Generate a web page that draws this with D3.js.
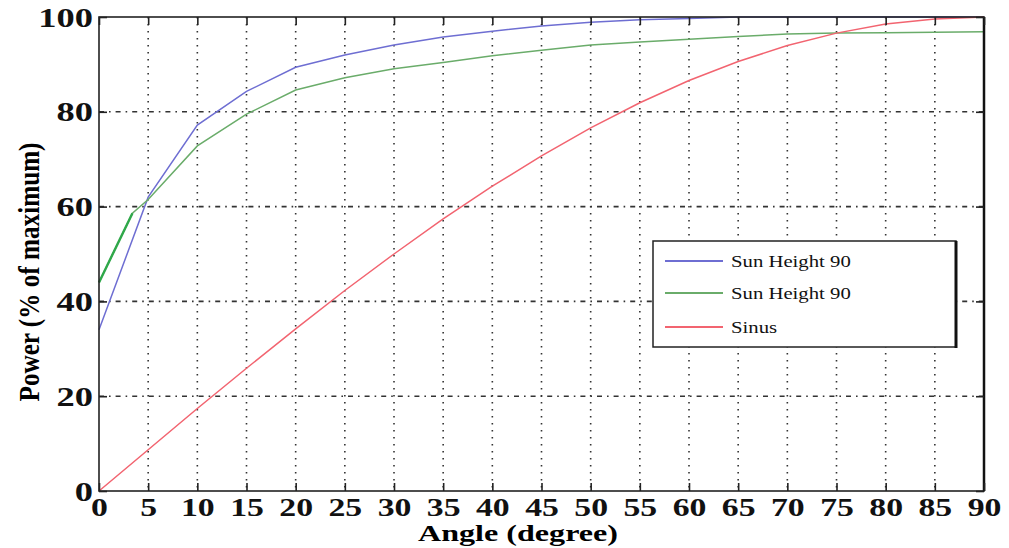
<!DOCTYPE html>
<html><head><meta charset="utf-8">
<script src="https://cdn.jsdelivr.net/npm/d3@7"></script>
<style>body{margin:0;background:#fff}</style>
</head><body>
<svg id="c" width="1009" height="548"></svg>
<script>
const xTicks = [0,5,10,15,20,25,30,35,40,45,50,55,60,65,70,75,80,85,90];
const yTicks = [0,20,40,60,80,100];
const blueX = [0,5,10,15,20,25,30,35,40,45,50,55,60,65,70,75,80,85,90];
const blueY = [34,62,77.2,84.3,89.4,92,94.1,95.8,97,98.1,98.9,99.4,99.7,100,100,100,100,100,100];
const greenX = [0,3.4,5,10,15,20,25,30,35,40,45,50,55,60,65,70,75,80,85,90];
const greenY = [44,58.6,61.5,72.8,79.5,84.6,87.2,89.1,90.4,91.8,93,94.1,94.7,95.3,95.9,96.4,96.6,96.7,96.8,96.9];
const sinX = [0,5,10,15,20,25,30,35,40,45,50,55,60,65,70,75,80,85,90];
const sinY = [0,8.7,17.4,25.9,34.2,42.3,50,57.4,64.3,70.7,76.6,81.9,86.6,90.6,94,96.6,98.5,99.6,100];
const legendLabels = ["Sun Height 90","Sun Height 90","Sinus"];
const colors = ["#6e6ed2","#6aac6a","#f26470"];

const svg = d3.select("#c");
const L=99,R=984,T=17,B=491;
const x = d3.scaleLinear().domain([0,90]).range([L,R]);
const y = d3.scaleLinear().domain([0,100]).range([B,T]);
const g = svg.append("g");
const SX = 1.35;

// grid
g.selectAll(".vg").data(xTicks.slice(1,-1)).enter().append("line")
 .attr("x1",d=>x(d)).attr("x2",d=>x(d)).attr("y1",T).attr("y2",B)
 .attr("stroke","#333").attr("stroke-width",1.6).attr("stroke-dasharray","1.6,5.4");
g.selectAll(".hg").data(yTicks.slice(1,-1)).enter().append("line")
 .attr("x1",L).attr("x2",R).attr("y1",d=>y(d)).attr("y2",d=>y(d))
 .attr("stroke","#333").attr("stroke-width",1.6).attr("stroke-dasharray","5,5,1.6,5");

// lines
const line = d3.line().x(d=>x(d[0])).y(d=>y(d[1]));
const series = [d3.zip(blueX,blueY), d3.zip(greenX,greenY), d3.zip(sinX,sinY)];
series.forEach((s,i)=>{
  g.append("path").datum(s).attr("d",line).attr("fill","none")
   .attr("stroke",colors[i]).attr("stroke-width",1.5);
});
g.append("path").datum(series[1].slice(0,2)).attr("d",line).attr("fill","none")
 .attr("stroke","#2fa84a").attr("stroke-width",2.4);

// frame
g.append("rect").attr("x",L).attr("y",T).attr("width",R-L).attr("height",B-T)
 .attr("fill","none").attr("stroke","#222").attr("stroke-width",1.6);
g.append("line").attr("x1",R).attr("x2",R).attr("y1",T).attr("y2",B).attr("stroke","#111").attr("stroke-width",2.5);

// axes
const xa = g.append("g").attr("transform",`translate(0,${B})`)
 .call(d3.axisBottom(x).tickValues(xTicks).tickSize(-8).tickPadding(0).tickFormat(d3.format("d")));
const xt = g.append("g").attr("transform",`translate(0,${T})`)
 .call(d3.axisTop(x).tickValues(xTicks).tickSize(-8).tickFormat(""));
const ya = g.append("g").attr("transform",`translate(${L},0)`)
 .call(d3.axisLeft(y).tickValues(yTicks).tickSize(-8).tickPadding(0));
const yr = g.append("g").attr("transform",`translate(${R},0)`)
 .call(d3.axisRight(y).tickValues(yTicks).tickSize(-8).tickFormat(""));
[xa,xt,ya,yr].forEach(a=>{a.select(".domain").remove();a.selectAll("line").attr("stroke","#222").attr("stroke-width",1.6);});
xa.selectAll("text").attr("font-family","Liberation Serif").attr("font-weight","bold").attr("font-size",25).attr("fill","#111")
 .attr("x",0).attr("y",25).attr("dy",0).attr("transform",`scale(${SX},1)`);
ya.selectAll("text").attr("font-family","Liberation Serif").attr("font-weight","bold").attr("font-size",27).attr("fill","#111")
 .attr("x",-6/SX).attr("dy","0.34em").attr("transform",`scale(${SX},1)`);

svg.append("text").attr("x",518).attr("y",541).attr("text-anchor","middle")
 .attr("font-family","Liberation Serif").attr("font-weight","bold").attr("font-size",23)
 .attr("textLength",200).attr("lengthAdjust","spacingAndGlyphs").text("Angle (degree)");
svg.append("text").attr("transform","translate(39,272) rotate(-90) scale(1,1.25)").attr("text-anchor","middle")
 .attr("font-family","Liberation Serif").attr("font-weight","bold").attr("font-size",23)
 .attr("textLength",259).attr("lengthAdjust","spacingAndGlyphs").text("Power (% of maximum)");

// legend
const lg = svg.append("g");
lg.append("rect").attr("x",653).attr("y",241).attr("width",303).attr("height",106).attr("fill","#fff").attr("stroke","#222").attr("stroke-width",1.5);
lg.append("line").attr("x1",956).attr("x2",956).attr("y1",241).attr("y2",348).attr("stroke","#111").attr("stroke-width",3);
const rows=[261,293,327];
legendLabels.forEach((t,i)=>{
  lg.append("line").attr("x1",665).attr("x2",723).attr("y1",rows[i]).attr("y2",rows[i]).attr("stroke",colors[i]).attr("stroke-width",1.8);
  lg.append("text").attr("transform",`translate(731,${rows[i]+6}) scale(1.22,1)`)
   .attr("font-family","Liberation Serif").attr("font-size",17).attr("fill","#111").text(t);
});
</script>
</body></html>
